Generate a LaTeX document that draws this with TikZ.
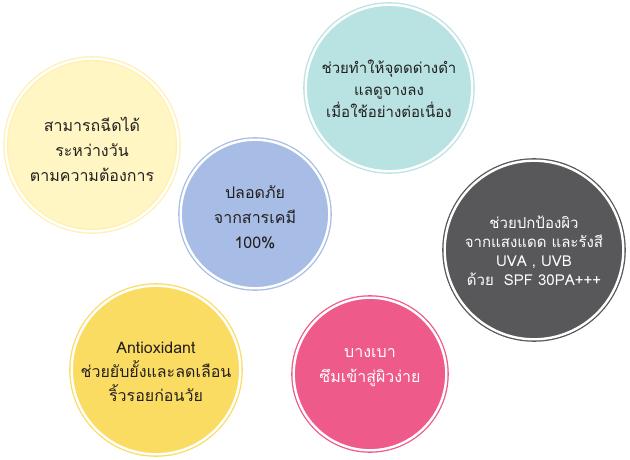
\documentclass[tikz,border=0pt]{standalone}
\usepackage{fontspec}
\newfontfamily\thaifont[Script=Thai]{Loma}
\definecolor{cYel}{HTML}{FFF6C4}
\definecolor{cYelRing}{HTML}{FFF0B0}
\definecolor{cBlue}{HTML}{A8BDE5}
\definecolor{cTeal}{HTML}{B9E3E3}
\definecolor{cGray}{HTML}{58585A}
\definecolor{cGold}{HTML}{FBDC63}
\definecolor{cPink}{HTML}{EE5A8A}
\definecolor{cText}{HTML}{231F20}
\newcommand\bubfont[2]{\thaifont\fontsize{#1}{#2}\selectfont\lineskiplimit=-30pt\lineskip=0pt\relax}
\begin{document}
\begin{tikzpicture}[x=1pt,y=-1pt,
  bub/.style 2 args={circle, inner sep=0pt, line width=1.3pt,
    double=white, double distance=2.4pt, fill=#1, draw=#1, minimum size=2*#2 - 7.4pt},
  bubtext/.style={inner sep=0pt, align=center, text=cText}]
\useasboundingbox[fill=white] (0,0) rectangle (630,460);
% circles
\node[bub={cYel}{90}, draw=cYelRing] (a) at (92,145) {};
\node[bub={cBlue}{78}] (b) at (255,214) {};
\node[bub={cTeal}{87}] (c) at (389,88) {};
\node[bub={cGray}{93}] (d) at (534,250) {};
\node[bub={cGold}{88}] (e) at (156,370) {};
\node[bub={cPink}{80}] (f) at (370,374) {};
% texts
\node[bubtext, font=\bubfont{16}{25}] (ta) at ([yshift=-4pt]a.center)
  {สามารถฉีดได้\\ระหว่างวัน\\ตามความต้องการ};
\node[bubtext, font=\bubfont{16}{25}] (tb) at ([yshift=-3pt]b.center)
  {ปลอดภัย\\จากสารเคมี\\100\%};
\node[bubtext, font=\bubfont{15}{22}] (tc) at ([yshift=-1pt]c.center)
  {ช่วยทำให้จุดดด่างดำ\\แลดูจางลง\\เมื่อใช้อย่างต่อเนื่อง};
\node[bubtext, font=\bubfont{15}{19}, text=white] (td) at ([yshift=-1pt]d.center)
  {ช่วยปกป้องผิว\\จากแสงแดด และรังสี\\UVA , UVB\\ด้วย~ SPF 30PA+++};
\node[bubtext, font=\bubfont{16}{24}] (te) at ([yshift=-2pt]e.center)
  {Antioxidant\\ช่วยยับยั้งและลดเลือน\\ริ้วรอยก่อนวัย};
\node[bubtext, font=\bubfont{16}{25}, text=white] (tf) at ([yshift=6pt]f.center)
  {บางเบา\\ซึมเข้าสู่ผิวง่าย};
\end{tikzpicture}
\end{document}
